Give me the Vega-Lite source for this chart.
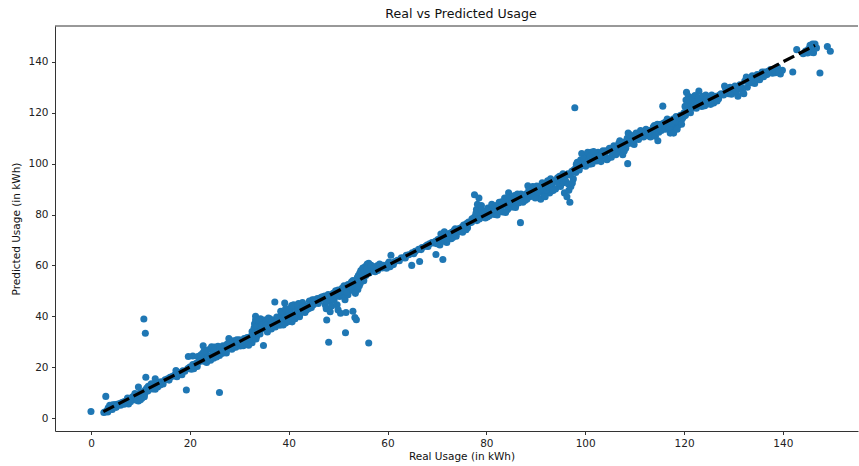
{"$schema":"https://vega.github.io/schema/vega-lite/v6.json","width":803,"height":405,"autosize":{"type":"none"},"padding":{"left":55,"top":26,"right":1,"bottom":35},"background":"white","config":{"view":{"stroke":null},"font":"DejaVu Sans"},"title":{"text":"Real vs Predicted Usage","fontSize":12.6,"fontWeight":"normal","font":"DejaVu Sans","color":"#111","offset":5,"dx":4.5},"datasets":{"pts":[[0,2.6],[2.6,2.2],[2.8,2.4],[3,8.5],[3.1,2.6],[3.3,3],[3.5,4],[3.6,3.2],[3.8,5],[4,4.2],[4.2,3.8],[4.4,5.2],[4.6,4.4],[4.9,5.3],[5.2,4.8],[5.5,5.5],[5.8,5.6],[6.1,5.9],[6.4,6.2],[6.8,6.5],[7.2,6.8],[7.6,5.5],[7.8,7.6],[8.2,8],[8.5,8.4],[8.8,7.2],[9.1,8.9],[9.4,8.2],[9.6,6.7],[9.8,9.6],[9.6,12.2],[10,9.8],[10.3,7.8],[10.6,10.3],[10.8,8.4],[11,11],[11.1,16],[11,33.3],[10.7,38.9],[11.3,11.8],[11.6,12.5],[12,12],[12.4,11.4],[12.8,12.8],[13,15.4],[13.2,13.8],[13.5,12.2],[13.8,14],[14.2,14.2],[14.6,13.4],[15,15],[15.5,15.4],[16,16],[16.5,16.4],[17,17],[17.2,18.7],[17.8,17.2],[18.2,18],[18.6,18.6],[19,18.4],[19.3,11],[19.6,19.5],[19.7,24.2],[20,20],[20.3,19.2],[20.6,21],[20.6,24.4],[21,20.2],[21.3,21.5],[21.6,24.2],[21.8,22],[22,22.4],[22.3,23.4],[22.6,25.4],[22.7,28.4],[22.8,22.3],[23,23.4],[23.3,26.5],[23.5,23],[23.7,24.4],[24,27],[24.2,22.7],[24.4,28],[24.6,25],[24.8,23.5],[25,27.9],[25.2,25.4],[25.5,26],[25.7,28.2],[26,10],[26,24.6],[26.2,26.4],[26.5,25.4],[26.7,28.4],[27,27],[27.2,26],[27.5,29],[27.8,27.6],[27.9,31.2],[28.2,28.5],[28.5,27],[28.8,30.4],[29,29],[29.3,27.8],[29.7,29.5],[30,30.8],[30.2,28.3],[30.5,30.5],[30.8,28.4],[31,31.2],[31.3,29],[31.6,31.6],[32,30],[32.3,32],[32.6,29.6],[32.6,34],[32.8,33],[33,35.4],[33.1,37],[33.2,33.5],[33.3,38.5],[33.3,40],[33.5,32],[33.6,36],[33.8,34],[34,37.8],[34.2,33],[34.3,39],[34.5,35],[34.8,37.5],[34.9,28.5],[35,38.5],[35.2,35],[35.5,38],[35.7,33.8],[36,36],[36.2,39],[36.5,35],[36.8,37],[37,38.5],[37.2,45.6],[37.3,35.8],[37.6,39.7],[38,38],[38.2,36.5],[38.5,40.5],[38.7,37.5],[39,41],[39,39],[39.2,45.2],[39.4,37.4],[39.7,42],[40,40],[40.2,38],[40.4,43],[40.7,37.8],[41,41],[41,44.5],[41.3,39],[41.5,43.5],[41.8,42],[42,45],[42.2,39.8],[42.5,42.5],[42.8,45.4],[43,43],[43.3,41.5],[43.7,44],[44,43],[44.3,44.5],[44.8,46.5],[45,44.5],[45.5,45.8],[45.8,47],[46.2,46],[46.5,47.4],[47,46.8],[47.3,48],[47.4,44.5],[47.6,43],[47.7,38.5],[48,48.5],[48.1,29.8],[48.3,46],[48.4,41.8],[48.7,44],[49,49],[49.2,46.5],[49.5,50],[49.8,44.5],[50,50.3],[50,42.5],[50.3,47.8],[50.5,41.2],[50.8,51],[51,48],[51.2,52],[51.4,46.5],[51.5,33.5],[51.6,41.5],[52,52.5],[52,48.5],[52.3,50],[52.7,53.5],[52.9,50.5],[53,42],[53.2,52],[53.4,39.5],[53.7,54],[53.7,38.6],[54,50.5],[54.2,54.5],[54.3,52],[54.4,57],[54.6,58],[54.8,55],[55,59],[55.2,54],[55.5,59.5],[55.6,56],[55.9,60.5],[56.2,29.5],[56.2,60.8],[56.3,57],[56.6,58],[57,59.5],[57.5,57.5],[57.9,59.8],[58,58],[58.4,60.5],[58.9,59],[59.5,59.6],[60,60.4],[60.5,59.5],[60.7,64],[61,61],[61.5,61.5],[62,62],[62.8,63],[63.3,63],[63.8,64],[64.3,64.2],[64.9,60],[65,65],[65.6,65.5],[66.3,66.3],[66.5,61.5],[67,67],[67.7,67.5],[68,68],[68.5,68.5],[69,69],[69.7,69.5],[69.8,64.3],[70.2,70.2],[70.6,68],[71,71],[71.2,62.3],[71.5,73.2],[71.8,72],[72,69],[72.5,72.5],[72.9,70.5],[73,73],[73.5,73.8],[73.9,71.5],[74,74],[74.5,74.5],[75,75],[75.2,73],[75.7,75.5],[76,76.5],[76.2,74.8],[76.7,76.8],[77,77],[77.3,78],[77.6,79],[77.6,87.8],[78,78.5],[78,82],[78.2,84],[78.3,79.5],[78.5,86.5],[78.7,81],[78.9,80],[79,83.5],[79.3,79],[79.6,80],[80,80.5],[80.3,82.5],[80.6,79.5],[81,81],[81.3,83],[81.6,80],[82,83.5],[82.3,81],[82.6,84.8],[83,83],[83.3,81],[83.7,86.5],[84,84],[84.3,82],[84.5,88.5],[84.7,85],[85,86.5],[85.3,83],[85.7,87.5],[86,84],[86.3,88],[86.7,86],[86.9,76.8],[87.2,86],[87.5,87.5],[87.8,85.5],[88,88],[88.4,91.3],[88.8,87],[89.2,90],[89.6,88],[90,90],[90.4,86.8],[90.8,91],[91,86],[91.3,92.5],[91.7,88],[92,92],[92.4,93.3],[92.8,88.5],[93,94],[93.3,91],[93.7,93],[94,90],[94.4,94.4],[94.8,95],[95,91],[95.5,96],[95.8,88.5],[96,95],[96.3,87],[96.5,96],[96.7,89.5],[96.9,84.8],[97.1,91],[97.3,97],[97.6,94],[97.9,122],[98,98],[98.2,99.7],[98.5,98.5],[98.7,100.5],[99,99],[99.3,104],[99.5,100.5],[100,100],[100.3,101],[100.6,103],[100.9,99.8],[101.2,104.5],[101.5,101.5],[101.9,103.5],[102.3,101],[102.6,104.5],[103,102.5],[103.4,104],[103.8,103],[104.2,105],[104.6,102],[105,105],[105.5,104],[106,106.5],[106.3,105],[106.8,108],[107.2,104.5],[107.6,103.5],[108,108.5],[108.2,106],[108.5,110],[108.6,100],[108.9,111.5],[109.2,108],[109.6,110.5],[110,109.5],[110.5,111],[111,110.5],[111.5,112.5],[112,112],[112.5,111],[113,113],[113.5,111.5],[114,115],[114.3,112.5],[114.7,109],[115,114],[115.3,115.5],[115.7,122.6],[116,114],[116.4,116.5],[116.8,116],[117.2,112],[117.5,113],[117.8,117.5],[118,114.5],[118.4,118.5],[118.8,115],[119,116],[119.3,119],[119.6,117.5],[120,120],[120.2,122.5],[120.4,125],[120.5,128],[120.6,121],[120.9,126.5],[121.2,122],[121.5,124],[122,122],[122.4,125],[122.7,123.5],[123,128.5],[123.2,125],[123.6,122.5],[124,124.5],[124.4,127],[124.8,124],[125.2,125.5],[125.6,127],[126,123.8],[126.5,126.5],[127,125.5],[127.5,127.5],[128.2,130.5],[128.6,128],[129.3,130],[129.9,128],[130.3,130.5],[130.9,126.5],[131.3,131],[131.9,128],[132.3,132.5],[132.8,130],[133.3,133.5],[133.8,134.5],[134.3,131.5],[134.8,135],[135.3,133],[135.8,136],[136.3,136],[136.8,135],[137.5,137],[138.2,136.5],[138.9,138],[139.5,135.2],[139.9,136.7],[142,136],[142.8,144.8],[144.1,143.2],[145,143.5],[145.3,144.5],[145.5,146.5],[146,147],[146.2,143.6],[146.5,147],[146.8,145.5],[147.5,135.6],[149,146],[149.6,144.2],[3.4,2.4],[4.3,3.4],[5.1,4.2],[6,5],[6.7,5.4],[7.4,7.9],[8,6.4],[8.9,9.6],[9.3,7],[10,7.2],[10.9,9.6],[11.5,10.6],[12.2,13.5],[13,11.3],[14,13],[15.8,14.9],[17.4,16.2],[18.4,17],[20.8,19.4],[21.5,20.3],[22.2,24.8],[22.9,26.3],[23.4,21.8],[24.3,24.1],[24.9,26.6],[25.4,24],[26.1,27.6],[26.8,26.1],[27.4,25.6],[28.1,29.6],[28.9,27.8],[29.5,30.8],[30.4,29.4],[31.1,30.1],[31.9,28.6],[32.4,31],[33.4,31.1],[33.9,38.6],[34.6,36.6],[35.4,36.5],[35.9,39.3],[36.6,38],[37.4,37.4],[37.9,39],[38.4,42],[38.9,36.6],[39.4,43],[39.8,38.6],[40.1,41.4],[40.6,44.2],[40.9,39.4],[41.4,40.5],[41.9,44.6],[42.3,41],[42.9,43.7],[43.6,42.5],[44.2,46],[44.6,43.4],[45.2,46.5],[46,45],[46.8,47.7],[47.6,46],[48.2,47.4],[48.9,47.3],[49.6,48.4],[50.4,49.5],[51.1,50],[51.7,49.6],[52.4,51.4],[53,54],[53.5,49],[53.9,55.2],[54.1,56],[54.5,53],[54.9,56.9],[55.3,57.7],[55.8,58.6],[56.7,60],[57.2,58.8],[58.2,59.3],[59.1,60],[59.8,58.9],[60.3,61.3],[61.2,60.3],[62.4,61.8],[63.6,62.9],[65.3,64.6],[66.8,66.2],[68.2,67.4],[69.3,68.8],[70,68.5],[70.8,72.3],[71.3,69.5],[71.9,70.5],[72.7,71.5],[73.2,71],[73.7,74.4],[74.2,73],[74.8,73.6],[75.4,75.9],[75.9,74],[76.4,77],[77.1,78.3],[77.9,80.5],[78.1,77.6],[78.6,78.2],[79.1,81.8],[79.8,78.6],[80.2,79],[80.8,82],[81.1,84],[81.5,81.7],[81.8,83],[82.2,79.8],[82.8,81.5],[83.1,85],[83.5,83.8],[83.9,80.8],[84.2,86.5],[84.9,83],[85.1,84.5],[85.5,85.5],[85.9,82.8],[86.1,86.8],[86.5,84.5],[87,88],[87.4,84.8],[88.2,86],[88.6,89.5],[89,87.8],[89.4,91],[89.9,86.5],[90.2,91.2],[90.6,88.8],[91.5,90],[91.9,87],[92.2,89.6],[92.6,90.8],[93.1,92.4],[93.5,89.4],[94.1,93.2],[94.6,92.3],[95.2,93.8],[95.6,92.5],[96.1,93],[96.6,92],[97,95.5],[97.4,92.4],[97.7,97.5],[98.1,96.5],[98.4,100.5],[98.8,97.5],[99.1,101.5],[99.8,102],[100.1,99],[100.5,104.5],[100.8,101.8],[101,103],[101.4,100],[101.7,104.8],[102.1,102.5],[102.8,103],[103.2,100.8],[103.6,105],[104,103.8],[104.4,101.5],[104.9,106],[105.3,102.5],[105.8,107],[106.2,103.5],[106.6,106.5],[107,109],[107.4,106.5],[107.9,105],[108.4,107.5],[108.7,112],[109.4,111],[109.9,107.5],[110.3,112],[110.8,109.5],[111.2,113],[111.8,110.5],[112.3,113.5],[112.8,111.5],[113.2,110.5],[113.8,114.5],[114.2,110.8],[114.6,115.5],[114.9,112.3],[115.4,113],[115.9,116],[116.2,113.5],[116.6,117.5],[117,114.2],[117.4,116],[117.9,112],[118.2,116.8],[118.6,113.5],[119.1,118],[119.5,115.5],[119.8,118.2],[120.1,118.8],[120.3,119],[120.7,123.5],[121,125],[121.3,120],[121.7,126],[122.2,126.8],[122.5,121.8],[122.9,126],[123.3,123],[123.8,126.5],[124.2,122.8],[124.6,125.5],[125,123.5],[125.4,123.3],[125.8,125],[126.2,126],[126.7,124.6],[127.2,127],[128,127],[128.4,129.5],[129,127.5],[129.6,127.3],[130.1,129.4],[130.6,128.5],[131.1,129.5],[131.6,130],[132.1,127.5],[132.6,134],[133.1,132],[133.6,131.8],[134.1,133],[134.6,133.8],[135.1,134.5],[135.6,134.8],[136.1,134.2],[137,136.3],[137.9,135.5],[138.5,135.7],[139.2,136],[144.6,144.3],[145.2,145],[145.8,143.8],[146.4,145.3]],"line":[{"x":2.5,"y":2.5},{"x":146.5,"y":146.5}]},"layer":[{"data":{"name":"pts"},"transform":[{"calculate":"datum[0]","as":"real"},{"calculate":"datum[1]","as":"pred"}],"mark":{"type":"point","filled":true,"opacity":1,"color":"#1f77b4","size":50},"encoding":{"x":{"field":"real","type":"quantitative","scale":{"domain":[-7.28,155.2],"nice":false,"zero":false},"axis":{"title":"Real Usage (in kWh)","values":[0,20,40,60,80,100,120,140],"grid":false,"titleFontWeight":"normal","titleFontSize":10.5,"labelFontSize":10.5,"titleColor":"#111","labelColor":"#222","domainColor":"#333","tickColor":"#333","tickSize":3.5,"labelPadding":4,"titlePadding":2,"titleX":406.5}},"y":{"field":"pred","type":"quantitative","scale":{"domain":[-5.1,154.1],"nice":false,"zero":false},"axis":{"title":"Predicted Usage (in kWh)","values":[0,20,40,60,80,100,120,140],"grid":false,"titleFontWeight":"normal","titleFontSize":10.5,"labelFontSize":10.5,"titleColor":"#111","labelColor":"#222","domainColor":"#333","tickColor":"#333","tickSize":3.5,"labelPadding":3.5,"titlePadding":6}}}},{"data":{"name":"line"},"mark":{"type":"line","color":"black","strokeWidth":3.2,"strokeDash":[12,5],"clip":true},"encoding":{"x":{"field":"x","type":"quantitative"},"y":{"field":"y","type":"quantitative"}}},{"data":{"values":[{"v":0}]},"mark":{"type":"rule","color":"#333","strokeWidth":1},"encoding":{"y":{"datum":154.1},"x":{"datum":-7.28},"x2":{"datum":155.2}}}]}
